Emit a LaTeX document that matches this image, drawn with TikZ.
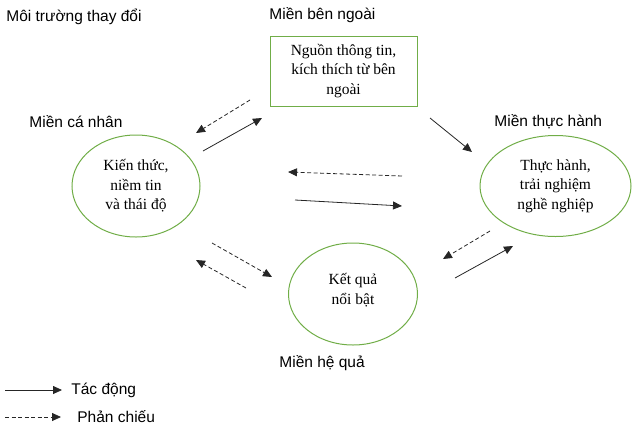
\documentclass[tikz,border=0pt]{standalone}
\usepackage{fontspec}
\setmainfont{Liberation Serif}
\setsansfont{Liberation Sans}
\usetikzlibrary{arrows.meta,shapes.geometric,positioning}
\definecolor{OffGreen}{HTML}{70AD47}

\begin{document}
\begin{tikzpicture}[x=1pt,y=-1pt,line width=.8pt,
 every node/.style={inner sep=1pt},
 zone/.style={font=\sffamily\fontsize{15.5}{18}\selectfont,anchor=west},
 body/.style={font=\fontsize{15.5}{19.5}\selectfont,align=center},
 oval/.style={ellipse,draw=OffGreen,line width=1pt,body},
 act/.style={black!85,-{Triangle[length=9pt,width=8pt]}},
 refl/.style={act,dash pattern=on 4pt off 2.5pt}]
\useasboundingbox (0,0) rectangle (632,429);
% domain titles
\node[zone] (env) at (5,17) {Môi trường thay đổi};
\node[zone] (outer) at (268,15) {Miền bên ngoài};
\node[zone] (pers) at (28,122) {Miền cá nhân};
\node[zone] (prac) at (493,122) {Miền thực hành};
\node[zone] (cons) at (278,363) {Miền hệ quả};
% boxes
\node[draw=OffGreen,line width=.9pt,body,minimum width=147pt,minimum height=70pt] (src) at (343.5,71)
 {Nguồn thông tin,\\kích thích từ bên\\ngoài};
\node[oval,minimum width=128pt,minimum height=102pt] (know) at (136,186)
 {Kiến thức,\\niềm tin\\và thái độ};
\node[oval,minimum width=151pt,minimum height=101pt] (exp) at (555.5,186)
 {Thực hành,\\trải nghiệm\\nghề nghiệp};
\node[oval,minimum width=129pt,minimum height=102pt] (res) at (353,294) {};
\node[body] (res-t) at ([yshift=4pt]res.center) {Kết quả\\nổi bật};
% arrow ends
\foreach \n/\xa/\ya/\xb/\yb in {a1/250/100/196/133, a2/203/151/262/118,
  a3/430/118/472/152, a4/402/176/288/172, a5/295/200/402/206,
  a6/212/243/272/277, a7/246/288/196/260, a8/490/231/443/259,
  a9/455/278/513/246, k1/5/390/62/390, k2/5/417/61/417}{
  \coordinate (\n-s) at (\xa,\ya); \coordinate (\n-e) at (\xb,\yb);}
\foreach \n in {a2,a3,a5,a9,k1}{\draw[act] (\n-s) -- (\n-e);}
\foreach \n in {a1,a4,a6,a7,a8,k2}{\draw[refl] (\n-s) -- (\n-e);}
% legend
\node[zone] (act-l) at (70,390) {Tác động};
\node[zone] (refl-l) at (76,417) {Phản chiếu};
\end{tikzpicture}
\end{document}
